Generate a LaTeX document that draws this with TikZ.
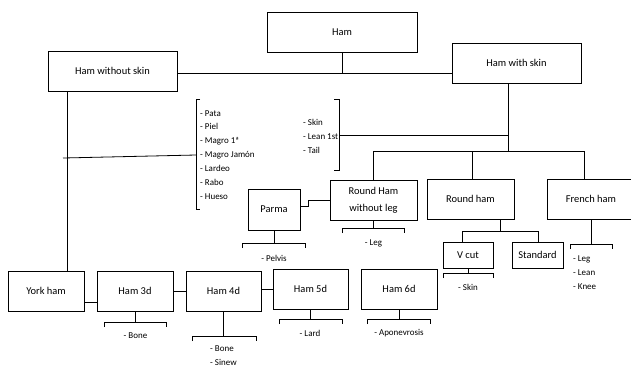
\documentclass[tikz,border=0pt]{standalone}
\usepackage{fontspec}
\setmainfont{Carlito}
\newcommand\hambrk[3]{\draw[ln] (#1,#3+5) -- (#1,#3) -- (#2,#3) -- (#2,#3+5);}
\begin{document}
\begin{tikzpicture}[x=1bp,y=-1bp,
  box/.style={draw,line width=0.8bp,inner sep=0pt,font=\fontsize{10.5}{17}\selectfont,align=center},
  lst/.style={inner sep=0pt,font=\fontsize{9}{14}\selectfont,align=left},
  ln/.style={line width=0.8bp}]
\useasboundingbox (0,0) rectangle (631,370);
% boxes
\node[box,minimum width=150bp,minimum height=40bp] (ham) at (342,32) {Ham};
\node[box,minimum width=129bp,minimum height=40bp] (hwo) at (112.5,71) {Ham without skin};
\node[box,minimum width=129bp,minimum height=40bp] (hws) at (516.5,63) {Ham with skin};
\node[box,minimum width=52bp,minimum height=41bp] (parma) at (274,209.5) {Parma};
\node[box,minimum width=87bp,minimum height=40bp] (rhwl) at (373.5,200) {Round Ham\\without leg};
\node[box,minimum width=87bp,minimum height=40bp] (rh) at (470.5,199) {Round ham};
\node[box,minimum width=88bp,minimum height=40bp] (fh) at (591,199) {French ham};
\node[box,minimum width=50bp,minimum height=26bp] (vcut) at (468,255) {V cut};
\node[box,minimum width=51bp,minimum height=26bp] (std) at (537.5,255) {Standard};
\node[box,minimum width=76bp,minimum height=40bp] (york) at (46,291) {York ham};
\node[box,minimum width=76bp,minimum height=40bp] (h3d) at (135,291) {Ham 3d};
\node[box,minimum width=75bp,minimum height=40bp] (h4d) at (223.5,291) {Ham 4d};
\node[box,minimum width=75bp,minimum height=40bp] (h5d) at (310.5,289) {Ham 5d};
\node[box,minimum width=76bp,minimum height=40bp] (h6d) at (399,289) {Ham 6d};
% lists
\node[lst,anchor=west] (lpata) at (200,155) {- Pata\\- Piel\\- Magro 1ª\\- Magro Jamón\\- Lardeo\\- Rabo\\- Hueso};
\node[lst,anchor=west] (lskin) at (303,136) {- Skin\\- Lean 1st\\- Tail};
\node[lst] (lpelvis) at (274,258) {- Pelvis};
\node[lst] (lleg) at (373.5,243) {- Leg};
\node[lst] (lvskin) at (468,287) {- Skin};
\node[lst,anchor=west] (lfr) at (573,273) {- Leg\\- Lean\\- Knee};
\node[lst] (lbone) at (135.5,336) {- Bone};
\node[lst,anchor=west] (l4d) at (210,356) {- Bone\\- Sinew};
\node[lst] (llard) at (310,333) {- Lard};
\node[lst] (lapo) at (399,333) {- Aponevrosis};
% top connectors
\coordinate (j1) at (342,73);
\draw[ln] (ham.south) -- (j1);
\draw[ln] (hwo.east |- j1) -- (hws.west |- j1);
\coordinate (j2) at (508,135);
\coordinate (j3) at (508,151);
\draw[ln] (hws.south -| j2) -- (j3);
\draw[ln] (j2) -- (339,135);
\draw[ln] (334,99) -- (339,99) -- (339,170) -- (334,170);
\coordinate (d1) at (373.5,151);
\coordinate (d2) at (472,151);
\coordinate (d3) at (584,151);
\draw[ln] (rhwl.north) -- (d1) -- (d3) -- (d3 |- fh.north);
\draw[ln] (d2) -- (d2 |- rh.north);
% left branch
\coordinate (y1) at (67,157);
\draw[ln] (hwo.south -| y1) -- (york.north -| y1);
\draw[ln] (63,158) -- (196,155);
\draw[ln] (200,99) -- (196,99) -- (196,209) -- (200,209);
% parma
\draw[ln] ([yshift=3.5bp]parma.east) -- ++(8,0) |- (rhwl.west);
\draw[ln] (parma.south) -- ++(0,13);
\hambrk{242}{305}{243}
% round ham without leg
\draw[ln] (rhwl.south) -- ++(0,8);
\hambrk{342}{404}{228}
% round ham
\coordinate (r1) at (500,231);
\coordinate (r2) at (462,231);
\coordinate (r3) at (538,231);
\draw[ln] (rh.south -| r1) -- (r1);
\draw[ln] (r2 |- vcut.north) -- (r2) -- (r3) -- (r3 |- std.north);
\draw[ln] (vcut.south) -- ++(0,5);
\hambrk{443}{493}{273}
% french ham
\draw[ln] (fh.south) -- ++(0,25);
\hambrk{570}{612}{244}
% bottom row
\draw[ln] ([yshift=-11bp]york.east) -- ([yshift=-11bp]h3d.west);
\draw[ln] (h3d.east) -- (h4d.west);
\draw[ln] (h4d.east |- h5d.west) -- (h5d.west);
\draw[ln] (h3d.south) -- ++(0,11);
\hambrk{104}{166}{322}
\draw[ln] (h4d.south) -- ++(0,25);
\hambrk{192}{256}{336}
\draw[ln] (h5d.south) -- ++(0,10);
\hambrk{279}{342}{319}
\draw[ln] (h6d.south) -- ++(0,10);
\hambrk{367}{430}{319}
\end{tikzpicture}
\end{document}
